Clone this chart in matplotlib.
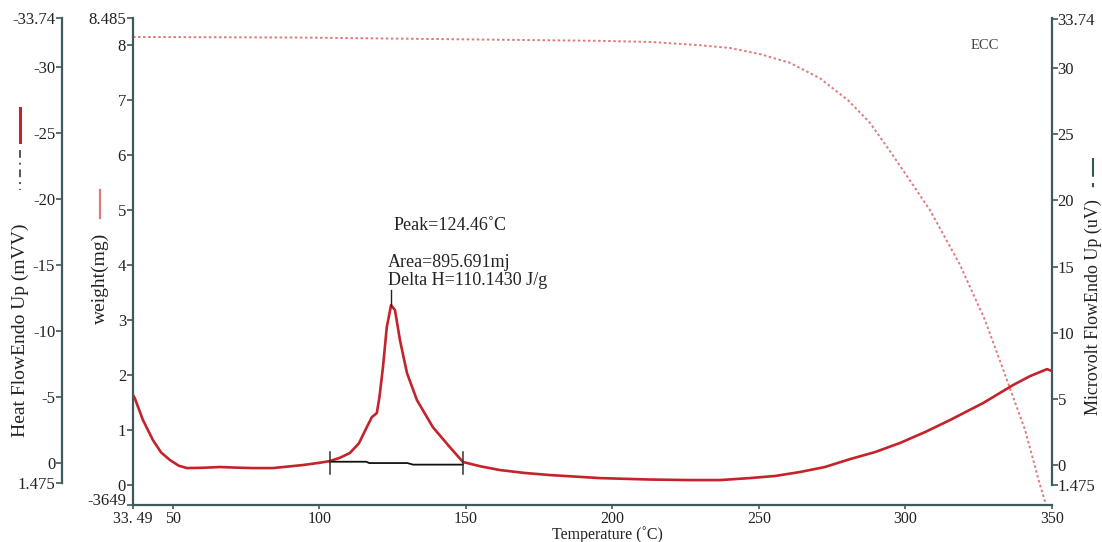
import matplotlib
matplotlib.use('Agg')
import matplotlib.pyplot as plt
from matplotlib.lines import Line2D

# heat flow trace, temperature in C
temp_hf = [36.4, 37.0, 39.8, 43.2, 46.0, 49.0, 52.0, 54.8, 60.0, 66.0, 72.0, 77.3,
           84.1, 90.0, 94.4, 100.0, 103.6, 107.0, 110.4, 113.5, 116.2, 117.9, 119.6,
           120.5, 121.7, 123.0, 124.46, 125.8, 127.5, 129.9, 133.3, 138.7, 144.5,
           149.0, 155.0, 161.6, 170.0, 178.7, 195.7, 212.8, 226.5, 236.7, 246.9,
           255.5, 264.0, 272.5, 281.1, 289.6, 298.1, 306.7, 315.2, 326.5, 336.7,
           342.5, 348.3, 350.0]
heat_flow = [-5.15, -4.92, -3.26, -1.74, -0.80, -0.23, 0.20, 0.38, 0.36, 0.30, 0.35, 0.38,
             0.38, 0.25, 0.15, -0.02, -0.15, -0.40, -0.76, -1.50, -2.73, -3.48, -3.79,
             -5.00, -7.27, -10.30, -11.97, -11.59, -9.32, -6.82, -4.77, -2.73, -1.21,
             -0.08, 0.25, 0.53, 0.75, 0.91, 1.14, 1.25, 1.29, 1.29, 1.14,
             0.98, 0.68, 0.30, -0.30, -0.83, -1.52, -2.35, -3.26, -4.55, -5.91,
             -6.59, -7.12, -6.97]

# weight loss trace (mg)
temp_w = [36.4, 93.3, 161.6, 195.7, 212.8, 229.9, 240.1, 250.3, 260.6, 270.8, 280.4,
          287.9, 295.7, 308.4, 318.6, 327.1, 334.0, 340.8, 345.9, 348.0]
weight = [8.14, 8.13, 8.09, 8.07, 8.05, 7.99, 7.94, 7.83, 7.67, 7.39, 6.99,
          6.58, 5.99, 4.99, 4.00, 3.00, 2.00, 1.00, 0.00, -0.36]

# integration baseline of the peak
base_t = [103.6, 116.0, 117.0, 130.0, 132.0, 149.0]
base_hf = [-0.10, -0.10, 0.00, 0.00, 0.12, 0.12]
peak_t = 124.46

x_ticks = [36.4, 50, 100, 150, 200, 250, 300, 350]
x_labels = ['33. 49', '50', '100', '150', '200', '250', '300', '350']
w_ticks = [-0.3649, 0, 1, 2, 3, 4, 5, 6, 7, 8, 8.485]
w_labels = ['-3649', '0', '1', '2', '3', '4', '5', '6', '7', '8', '8.485']
hf_ticks = [-33.74, -30, -25, -20, -15, -10, -5, 0, 1.475]
hf_labels = ['-33.74', '-30', '-25', '-20', '-15', '-10', '-5', '0', '1.475']
uv_labels = ['33.74', '30', '25', '20', '15', '10', '5', '0', '1.475']

spine_c = '#3e5a5a'
red = '#c4232b'
pink = '#e27a7a'
txt_c = '#222222'

plt.rcParams['font.family'] = ['Liberation Serif', 'DejaVu Serif']

fig = plt.figure(figsize=(11.02, 5.42), dpi=100)
ax = fig.add_axes([133 / 1102, 1 - 505 / 542, (1052 - 133) / 1102, 487 / 542])


def style(a, side):
	for s in a.spines.values():
		s.set_visible(False)
	a.spines[side].set_visible(True)
	a.spines[side].set_color(spine_c)
	a.spines[side].set_linewidth(1.6)
	a.tick_params(axis='y', colors=spine_c, labelcolor=txt_c, length=4, width=1.2,
	              labelsize=12, pad=1)


# weight axis (main)
style(ax, 'left')
ax.spines['bottom'].set_visible(True)
ax.spines['bottom'].set_color(spine_c)
ax.spines['bottom'].set_linewidth(1.6)
ax.tick_params(axis='x', colors=spine_c, labelcolor=txt_c, length=3, width=1.2,
               labelsize=11.5, pad=1)
ax.set_xlim(36.4, 350)
ax.set_ylim(-0.3649, 8.485)
ax.set_xticks(x_ticks)
ax.set_xticklabels(x_labels)
ax.set_yticks(w_ticks)
ax.set_yticklabels(w_labels)
ax.get_yticklabels()[0].set_va('baseline')
ax.plot(temp_w, weight, color=pink, lw=1.4, ls=(0, (1.3, 1.3)))

# heat flow axis (outer left)
ax_hf = ax.twinx()
style(ax_hf, 'left')
ax_hf.spines['left'].set_position(('outward', 51))
ax_hf.yaxis.set_ticks_position('left')
ax_hf.set_ylim(3.18, -33.74)
ax_hf.spines['left'].set_bounds(1.475, -33.74)
ax_hf.set_yticks(hf_ticks)
ax_hf.set_yticklabels(hf_labels)
ax_hf.plot(temp_hf, heat_flow, color=red, lw=1.9)
ax_hf.plot(base_t, base_hf, color='#111111', lw=1.3)
for t in [base_t[0], base_t[-1]]:
	ax_hf.plot([t, t], [-0.85, 0.85], color='#333333', lw=1.1)
ax_hf.plot([peak_t, peak_t], [-13.1, -11.9], color=txt_c, lw=1.0)

# microvolt axis (right)
ax_r = ax.twinx()
style(ax_r, 'right')
ax_r.yaxis.set_ticks_position('right')
ax_r.set_ylim(3.02, -33.79)
ax_r.spines['right'].set_bounds(1.475, -33.79)
ax_r.set_yticks(hf_ticks)
ax_r.set_yticklabels(uv_labels)
ax_r.tick_params(axis='y', pad=0)

# axis titles
fig.text(20 / 1102, 1 - 330 / 542, 'Heat FlowEndo Up (mVV)', rotation=90, fontsize=14,
         ha='center', va='center', color=txt_c)
fig.text(100 / 1102, 1 - 278 / 542, 'weight(mg)', rotation=90, fontsize=14,
         ha='center', va='center', color=txt_c)
fig.text(1093 / 1102, 1 - 307 / 542, 'Microvolt FlowEndo Up (uV)', rotation=90, fontsize=13,
         ha='center', va='center', color=txt_c)
fig.text(607 / 1102, 1 - 535 / 542, 'Temperature (˚C)', fontsize=11.5,
         ha='center', va='center', color=txt_c)

# annotations
ax.text(125.3, 4.72, 'Peak=124.46˚C', fontsize=13, va='center', color=txt_c)
ax.text(123.4, 4.05, 'Area=895.691mj', fontsize=13, va='center', color=txt_c)
ax.text(123.4, 3.72, 'Delta H=110.1430 J/g', fontsize=13, va='center', color=txt_c)
ax.text(327, 7.99, 'ECC', fontsize=10.5, ha='center', va='center', color='#444444')

# legend marks next to the axis titles
fig.add_artist(Line2D([20 / 1102] * 2, [1 - 108 / 542, 1 - 142 / 542], color=red, lw=2.2))
fig.add_artist(Line2D([20 / 1102] * 2, [1 - 150 / 542, 1 - 190 / 542], color='#555555',
                      lw=1.4, ls=(0, (4, 2.5, 1, 2.5))))
fig.add_artist(Line2D([100 / 1102] * 2, [1 - 190 / 542, 1 - 218 / 542], color=pink, lw=1.6))
fig.add_artist(Line2D([1093 / 1102] * 2, [1 - 158 / 542, 1 - 188 / 542], color='#2f5a4a',
                      lw=1.5, ls=(0, (9, 3, 2, 3))))

fig.savefig('out.png', dpi=100)
